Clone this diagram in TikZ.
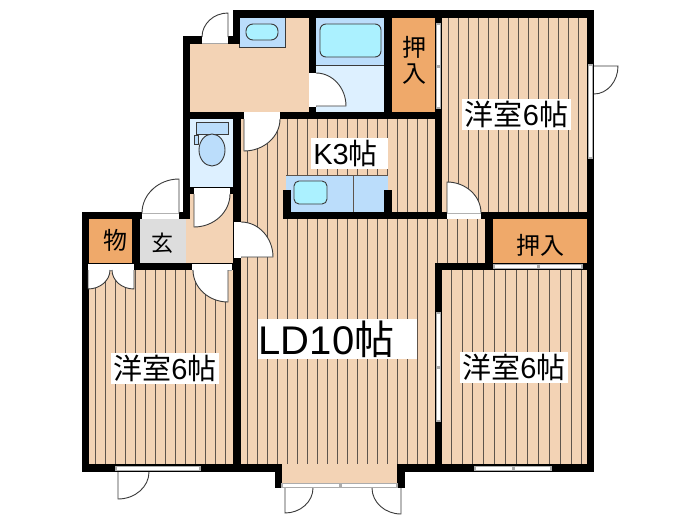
\documentclass[tikz,border=0pt]{standalone}
\usepackage{fontspec}
\setmainfont{Liberation Sans}
\newfontfamily\cjk{Noto Sans CJK JP}
\definecolor{floortan}{HTML}{F3D3B5}
\definecolor{closetorange}{HTML}{EFA96A}
\definecolor{genkangray}{HTML}{DDDDDD}
\definecolor{fixblue}{HTML}{BBDDFB}
\definecolor{wetblue}{HTML}{DDF0FF}
\definecolor{tubblue}{HTML}{ABF1FF}
\definecolor{stripegray}{HTML}{5E544C}
\definecolor{linegray}{HTML}{3A3A3A}
\tikzset{
  wall/.style={fill=black},
  stripe/.style={draw=stripegray,line width=0.8pt},
  fixture/.style={draw=linegray,line width=0.9pt},
  doorline/.style={draw=linegray,line width=0.9pt},
  roomlabel/.style={fill=white,inner sep=0pt,font=\fontsize{29}{29}\selectfont},
  closetlabel/.style={inner sep=0pt,align=center,font=\fontsize{24}{26}\selectfont\cjk},
  sash/.style={fill=white,draw=gray!65,line width=1.2pt}
}
% hinge x, hinge y, leaf vector, swing vector
\newcommand{\doorswing}[6]{
  \fill[white] (#1,#2) -- ({#1+#3},{#2+#4}) .. controls ({#1+#3+.55*#5},{#2+#4+.55*#6}) and ({#1+#5+.55*#3},{#2+#6+.55*#4}) .. ({#1+#5},{#2+#6}) -- cycle;
  \draw[doorline] (#1,#2) -- ({#1+#3},{#2+#4}) .. controls ({#1+#3+.55*#5},{#2+#4+.55*#6}) and ({#1+#5+.55*#3},{#2+#6+.55*#4}) .. ({#1+#5},{#2+#6});
}
\begin{document}
\begin{tikzpicture}[x=1pt,y=-1pt]
\useasboundingbox (0,0) rectangle (700,525);
\fill[white] (0,0) rectangle (700,525);

% floors
\fill[floortan] (89,270) rectangle (233,464);
\fill[floortan] (241,119) rectangle (435,263);
\fill[floortan] (241,263) rectangle (435,464);
\fill[floortan] (435,219) rectangle (485,263);
\fill[floortan] (282,464) rectangle (397,483);
\fill[floortan] (442,18) rectangle (587,212);
\fill[floortan] (442,270) rectangle (587,464);
\fill[floortan] (190,44) rectangle (309,112);
\fill[floortan] (240,18) rectangle (309,44);
\fill[floortan] (190,194) rectangle (233,263);

% stripes
\foreach \sx in {95,105,...,225} \draw[stripe] (\sx,270) -- (\sx,464);
\foreach \sx in {247,257,...,427} \draw[stripe] (\sx,119) -- (\sx,464);
\foreach \sx in {437,447,...,477} \draw[stripe] (\sx,219) -- (\sx,263);
\foreach \sx in {448,458,...,578} \draw[stripe] (\sx,18) -- (\sx,212);
\foreach \sx in {451,461.9,...,583} \draw[stripe] (\sx,270) -- (\sx,464);

% closets and entry
\fill[closetorange] (392,18) rectangle (435,112);
\fill[closetorange] (493,219) rectangle (587,263);
\fill[closetorange] (89,219) rectangle (132,263);
\fill[genkangray] (140,219) rectangle (186,263);
\fill[floortan] (186,219) rectangle (190,263);

% wash basin
\fill[fixblue] (239,18) rectangle (285,47);
\draw[fixture] (239,18) -- (239,47) -- (285,47) -- (285,18);
\draw[fixture,fill=tubblue,rounded corners=7pt] (246,24) rectangle (278,40);

% bath
\fill[wetblue] (316,18) rectangle (384,112);
\fill[fixblue] (316,18) rectangle (384,65);
\draw[linegray,line width=0.6pt] (316,65) -- (384,65);
\draw[fixture,fill=tubblue,rounded corners=6pt] (320,24) rectangle (381,57);

% toilet
\fill[wetblue] (190,119) rectangle (233,187);
\draw[fixture,fill=fixblue] (196,122) rectangle (228,134);
\draw[fixture,fill=fixblue] (194,135) rectangle (198,144);
\draw[fixture,fill=fixblue] (212,150) ellipse (13 and 16);

% kitchen counter
\fill[fixblue] (286,175) rectangle (388,212);
\draw[stripegray,line width=0.6pt] (286,175) -- (388,175);
\draw[stripegray,line width=0.8pt] (353,175) -- (353,212);
\draw[fixture,fill=tubblue,rounded corners=5pt] (294,181) rectangle (327,204);

% walls
\foreach \xa/\ya/\xb/\yb in {
  233/10/594/18, 587/10/594/472, 233/10/240/44, 183/36/240/44, 183/36/190/219,
  183/112/442/119, 309/10/316/112, 384/10/392/112, 435/10/442/219,
  233/119/241/472, 190/187/241/194, 82/212/190/219, 82/212/89/472,
  132/212/140/270, 82/263/241/270, 82/464/282/472, 275/464/282/488,
  397/464/594/472, 397/464/405/488, 283/212/587/219, 283/190/291/219,
  384/190/392/219, 485/219/493/270, 435/263/587/270, 435/263/442/472}
  \fill[wall] (\xa,\ya) rectangle (\xb,\yb);

% door frames
\foreach \xa/\ya/\xb/\yb in {
  202/37/228/43, 244/112/280/119, 309/73/316/107, 194/188/230/194,
  142/213/179/219, 234/222/241/258, 192/264/232/270, 88/264/134/270,
  447/213/481/219}
  \fill[white] (\xa,\ya) rectangle (\xb,\yb);
\foreach \xa/\ya/\xb/\yb in {
  202/43/228/43, 244/119/280/119, 316/73/316/107, 194/194/230/194,
  142/213/179/213, 241/222/241/258, 192/270/232/270, 88/270/134/270,
  447/213/481/213}
  \draw[gray!70,line width=0.7pt] (\xa,\ya) -- (\xb,\yb);

% windows and sliding doors
\draw[sash] (436.6,24) rectangle (440.6,66);
\draw[sash] (436.6,67) rectangle (440.6,108);
\draw[sash] (436.6,313) rectangle (440.6,367);
\draw[sash] (436.6,368) rectangle (440.6,421);
\draw[sash] (588.5,65) rectangle (592.5,158);
\draw[sash] (116,466.5) rectangle (200,470.5);
\draw[sash] (475,466.5) rectangle (513,470.5);
\draw[sash] (514,466.5) rectangle (551,470.5);
\draw[sash] (494,264.5) rectangle (538,268.5);
\draw[sash] (539,264.5) rectangle (582,268.5);
\draw[sash] (282,483.5) rectangle (340,487.5);
\draw[sash] (341,483.5) rectangle (397,487.5);

% doors
\doorswing{228}{37}{0}{-24}{-26}{0}
\doorswing{244}{119}{0}{32}{36}{0}
\doorswing{316}{106}{30}{0}{0}{-33}
\doorswing{194}{194}{0}{33}{36}{0}
\doorswing{179}{213}{0}{-34}{-37}{0}
\doorswing{241}{257}{32}{0}{0}{-35}
\doorswing{228}{270}{0}{32}{-35}{0}
\doorswing{88}{270}{0}{19}{22}{0}
\doorswing{134}{270}{0}{19}{-22}{0}
\doorswing{447}{213}{0}{-31}{34}{0}
\doorswing{118}{472}{0}{27}{31}{0}
\doorswing{285}{488}{0}{25}{28}{0}
\doorswing{401}{488}{0}{26}{-29}{0}
\doorswing{594}{66}{24}{0}{0}{28}

% labels
\node[roomlabel,minimum width=109pt,minimum height=31pt] (westernNE) at (516.5,114.5) {{\cjk 洋室}6{\cjk 帖}};
\node[roomlabel,minimum width=108pt,minimum height=31pt] (westernW) at (165,368.5) {{\cjk 洋室}6{\cjk 帖}};
\node[roomlabel,minimum width=108pt,minimum height=31pt] (westernSE) at (514,367.5) {{\cjk 洋室}6{\cjk 帖}};
\node[roomlabel,minimum width=77pt,minimum height=31pt] (kitchen) at (349.5,153.5) {K3{\cjk 帖}\kern8pt};
\node[roomlabel,minimum width=159pt,minimum height=40pt,font=\fontsize{40}{40}\selectfont] (living) at (337.5,339) {LD10{\cjk 帖}\kern22pt};
\node[closetlabel] (closetN) at (414,60.5) {押\\[0pt]入};
\node[closetlabel] (closetE) at (540,245) {押入};
\node[closetlabel] (storage) at (115,240) {物};
\node[closetlabel,font=\fontsize{22}{24}\selectfont\cjk] (genkan) at (162,243) {玄};
\end{tikzpicture}
\end{document}
